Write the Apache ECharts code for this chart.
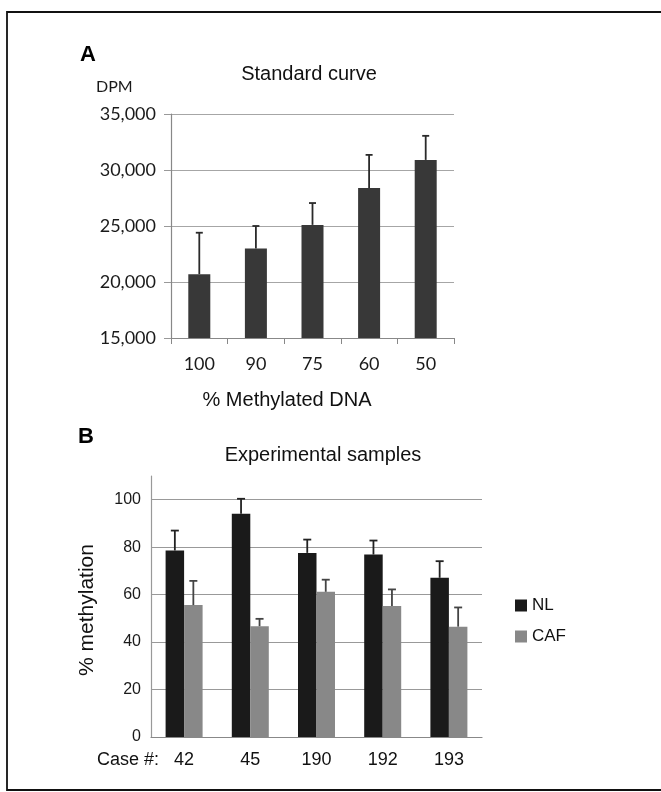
<!DOCTYPE html>
<html>
<head>
<meta charset="utf-8">
<script src="https://cdn.jsdelivr.net/npm/echarts@6/dist/echarts.min.js"></script>
<style>
  html, body { margin: 0; padding: 0; background: #fff; }
  #chart { width: 661px; height: 792px; }
</style>
</head>
<body>
<div id="chart"></div>
<script>
// panel A: standard curve
var methylPct = ['100', '90', '75', '60', '50']
var dpm = [20700, 23000, 25100, 28400, 30900]
var dpmErr = [3700, 2000, 1950, 2950, 2150]

// panel B: experimental samples
var cases = ['42', '45', '190', '192', '193']
var nl = [78.6, 94.1, 77.6, 76.9, 67.1]
var nlErr = [8.4, 6.3, 5.6, 5.9, 7.0]
var caf = [55.6, 46.7, 61.2, 55.2, 46.5]
var cafErr = [10.2, 3.1, 5.1, 7.0, 8.1]

var barB = 18.5

function errData(vals, errs) {
  return vals.map(function(v, i) { return [i, v, v + errs[i]] })
}

// vertical whisker (upper only) with a cap
function errRender(offset, capHalf, color) {
  return function(params, api) {
    var p0 = api.coord([api.value(0), api.value(1)])
    var p1 = api.coord([api.value(0), api.value(2)])
    var x = p0[0] + offset
    var st = { stroke: color, lineWidth: 1.8 }
    return {
      type: 'group',
      children: [
        { type: 'line', shape: { x1: x, y1: p0[1], x2: x, y2: p1[1] }, style: st },
        { type: 'line', shape: { x1: x - capHalf, y1: p1[1], x2: x + capHalf, y2: p1[1] }, style: st }
      ]
    }
  }
}

var sansA = 'Lato, "Open Sans", sans-serif'
var sansB = '"Liberation Sans", Arial, sans-serif'

var chart = echarts.init(document.getElementById('chart'))
chart.setOption({
  animation: false,
  backgroundColor: '#fff',
  grid: [
    { left: 171, top: 114, right: 207, bottom: 454 },
    { left: 151, top: 476, right: 179, bottom: 55 }
  ],
  legend: {
    data: ['NL', 'CAF'],
    orient: 'vertical',
    left: 510,
    top: 592,
    itemWidth: 12,
    itemHeight: 12,
    itemGap: 14,
    icon: 'rect',
    textStyle: { fontFamily: sansB, fontSize: 17, color: '#111' }
  },
  xAxis: [
    {
      gridIndex: 0,
      type: 'category',
      data: methylPct,
      axisLine: { lineStyle: { color: '#888', width: 1.2 } },
      axisTick: { show: true, length: 6, lineStyle: { color: '#888' } },
      axisLabel: { margin: 17, fontFamily: sansA, fontSize: 18, color: '#1a1a1a' }
    },
    {
      gridIndex: 1,
      type: 'category',
      data: cases,
      axisLine: { lineStyle: { color: '#888', width: 1.2 } },
      axisTick: { show: false },
      axisLabel: { margin: 14, fontFamily: sansB, fontSize: 18, color: '#111' }
    }
  ],
  yAxis: [
    {
      gridIndex: 0,
      type: 'value',
      min: 15000,
      max: 35000,
      interval: 5000,
      axisLine: { show: true, lineStyle: { color: '#888', width: 1.2 } },
      axisTick: { show: true, length: 7, lineStyle: { color: '#999' } },
      splitLine: { lineStyle: { color: '#a6a6a6', width: 1.2 } },
      axisLabel: {
        margin: 15,
        fontFamily: sansA,
        fontSize: 18,
        color: '#1a1a1a',
        formatter: function(v) { return v.toLocaleString('en-US') }
      }
    },
    {
      gridIndex: 1,
      type: 'value',
      min: 0,
      max: 110,
      interval: 20,
      axisLine: { show: true, lineStyle: { color: '#999', width: 1.2 } },
      axisTick: { show: false },
      splitLine: { showMaxLine: false, lineStyle: { color: '#999', width: 1.2 } },
      axisLabel: { showMaxLabel: false, margin: 10, fontFamily: sansB, fontSize: 16, color: '#1a1a1a' }
    }
  ],
  series: [
    {
      name: 'DPM',
      type: 'bar',
      xAxisIndex: 0,
      yAxisIndex: 0,
      data: dpm,
      barWidth: 22,
      itemStyle: { color: '#383838' }
    },
    {
      type: 'custom',
      xAxisIndex: 0,
      yAxisIndex: 0,
      data: errData(dpm, dpmErr),
      renderItem: errRender(0, 3.5, '#2a2a2a'),
      z: 3
    },
    {
      name: 'NL',
      type: 'bar',
      xAxisIndex: 1,
      yAxisIndex: 1,
      data: nl,
      barWidth: barB,
      barGap: '0%',
      itemStyle: { color: '#1a1a1a' }
    },
    {
      name: 'CAF',
      type: 'bar',
      xAxisIndex: 1,
      yAxisIndex: 1,
      data: caf,
      barWidth: barB,
      barGap: '0%',
      itemStyle: { color: '#888888' }
    },
    {
      type: 'custom',
      xAxisIndex: 1,
      yAxisIndex: 1,
      data: errData(nl, nlErr),
      renderItem: errRender(-barB / 2, 4, '#222'),
      z: 3
    },
    {
      type: 'custom',
      xAxisIndex: 1,
      yAxisIndex: 1,
      data: errData(caf, cafErr),
      renderItem: errRender(barB / 2, 4, '#444'),
      z: 3
    }
  ],
  graphic: [
    {
      type: 'rect',
      shape: { x: 7, y: 12, width: 670, height: 778 },
      style: { fill: 'none', stroke: '#111', lineWidth: 1.8 },
      silent: true
    },
    { type: 'text', x: 80, y: 55, style: { text: 'A', font: 'bold 22px ' + sansB, fill: '#000', textVerticalAlign: 'middle' } },
    { type: 'text', x: 309, y: 74, style: { text: 'Standard curve', font: '20px ' + sansB, fill: '#111', textAlign: 'center', textVerticalAlign: 'middle' } },
    { type: 'text', x: 96, y: 87, style: { text: 'DPM', font: '16px ' + sansA, fill: '#1a1a1a', textVerticalAlign: 'middle' } },
    { type: 'text', x: 287, y: 400, style: { text: '% Methylated DNA', font: '20px ' + sansB, fill: '#111', textAlign: 'center', textVerticalAlign: 'middle' } },
    { type: 'text', x: 78, y: 437, style: { text: 'B', font: 'bold 22px ' + sansB, fill: '#000', textVerticalAlign: 'middle' } },
    { type: 'text', x: 323, y: 455, style: { text: 'Experimental samples', font: '20px ' + sansB, fill: '#111', textAlign: 'center', textVerticalAlign: 'middle' } },
    { type: 'text', x: 87, y: 610, rotation: Math.PI / 2, style: { text: '% methylation', font: '21px ' + sansB, fill: '#111', textAlign: 'center', textVerticalAlign: 'middle' } },
    { type: 'text', x: 97, y: 760, style: { text: 'Case #:', font: '18px ' + sansB, fill: '#111', textVerticalAlign: 'middle' } }
  ]
})
</script>
</body>
</html>
